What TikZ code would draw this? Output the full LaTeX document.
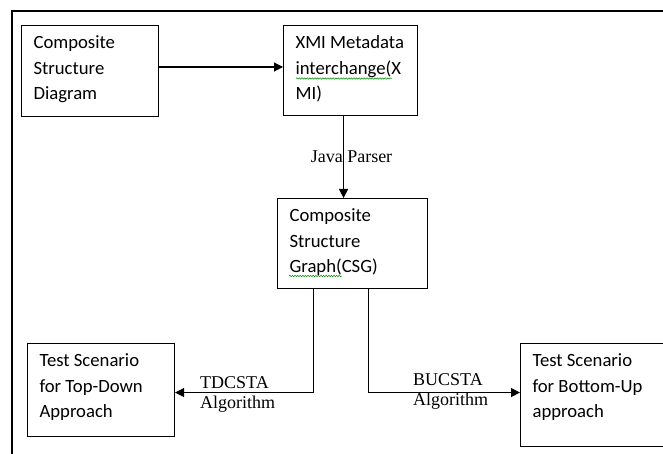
\documentclass[tikz,border=0pt]{standalone}
\usepackage{fontspec}
\setmainfont{Carlito}
\newfontfamily\labelserif{Liberation Serif}
\usetikzlibrary{arrows.meta,decorations.pathmorphing}

\tikzset{
  line/.style={line width=1.1pt, draw=black},
  arr/.style={line, -{Triangle[length=9pt,width=9pt]}},
  % process box: #1 = text width, #2 = depth below the first baseline
  procbox/.style n args={2}{line, anchor=north west, inner xsep=12pt, inner ysep=0pt,
    text width=#1, align=flush left, text height=23pt, text depth=#2,
    font=\fontsize{18.7}{25.5}\selectfont},
  lbl/.style={inner sep=0pt, font=\labelserif\fontsize{18}{20.5}\selectfont},
  squiggle/.style={draw=green!55!black, line width=0.5pt, decorate,
    decoration={snake, amplitude=0.7pt, segment length=2.6pt}}
}

\begin{document}
\begin{tikzpicture}[x=1pt,y=-1pt]
\useasboundingbox (0,0) rectangle (663,454);
\clip (0,0) rectangle (663,454);

% outer frame (top and left edges)
\draw[line] (12,470) -- (12,11) -- (680,11);

% process boxes
\node[procbox={113pt}{68pt}] (csd) at (21,25)  {Composite\\Structure\\Diagram};
\node[procbox={110pt}{67pt}] (xmi) at (283,25) {\mbox{XMI Metadata}\\\mbox{interchange(X}\\MI)};
\node[procbox={126pt}{67pt}] (csg) at (277,198) {Composite\\Structure\\Graph(CSG)};
\node[procbox={123pt}{70pt}] (td)  at (27,343) {\mbox{Test Scenario}\\\mbox{for Top-Down}\\Approach};
\node[procbox={136pt}{80pt}] (bu)  at (520,343) {\mbox{Test Scenario}\\\mbox{for Bottom-Up}\\approach};

% connectors
\draw[arr] ([yshift=-42pt]csd.north east) -- ([yshift=-42pt]xmi.north west);
\draw[arr] ([xshift=-7pt]xmi.south) -- ([xshift=-7pt]xmi.south |- csg.north);
\draw[arr] ([xshift=-39pt]csg.south) |- ([yshift=-2.5pt]td.east);
\draw[arr] ([xshift=16pt]csg.south) |- ([yshift=2.5pt]bu.west);

% connector labels
\node[lbl, anchor=base] (jp) at (351.5,163) {Java Parser};
\node[lbl, anchor=base west] (tdl) at (200,388)
  {\begin{tabular}[t]{@{}l@{}}TDCSTA\\Algorithm\end{tabular}};
\node[lbl, anchor=base west] (bul) at (413,385)
  {\begin{tabular}[t]{@{}l@{}}BUCSTA\\Algorithm\end{tabular}};

% spell-check underlines
\draw[squiggle] (296,78.5) -- (392,78.5);
\draw[squiggle] (289,276) -- (342,276);
\end{tikzpicture}
\end{document}
